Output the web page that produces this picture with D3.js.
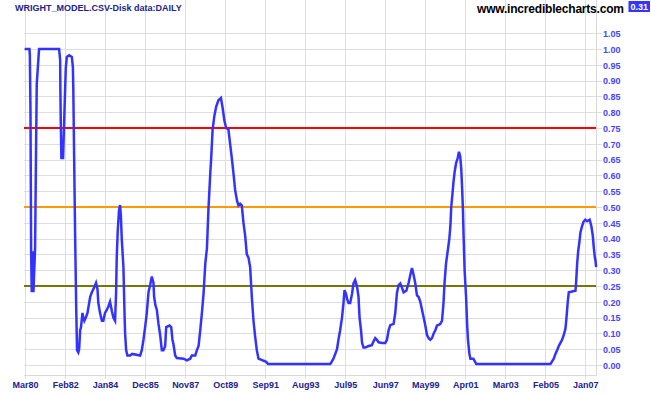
<!DOCTYPE html>
<html>
<head>
<meta charset="utf-8">
<script src="https://cdn.jsdelivr.net/npm/d3@7"></script>
<style>
  body { margin: 0; background: #fff; }
  svg { display: block; font-family: "Liberation Sans", Arial, sans-serif; }
</style>
</head>
<body>
<div id="chart"></div>
<script>
// chart data: decimal years and model readings
var years = [
  1980.17, 1980.40, 1980.42, 1980.45, 1980.48, 1980.51, 1980.55, 1980.59, 1980.67, 1980.72,
  1980.75, 1980.81, 1980.86, 1981.82, 1981.87, 1981.88, 1981.90, 1981.93, 1982.01, 1982.08,
  1982.14, 1982.19, 1982.30, 1982.43, 1982.48, 1982.50, 1982.54, 1982.59, 1982.64, 1982.68,
  1982.74, 1982.78, 1982.83, 1982.87, 1982.94, 1982.98, 1983.03, 1983.10, 1983.18, 1983.26,
  1983.31, 1983.39, 1983.51, 1983.59, 1983.66, 1983.70, 1983.78, 1983.87, 1983.94, 1984.02,
  1984.11, 1984.18, 1984.26, 1984.35, 1984.42, 1984.50, 1984.55, 1984.58, 1984.63, 1984.69,
  1984.74, 1984.78, 1984.82, 1984.90, 1984.95, 1984.98, 1985.03, 1985.09, 1985.22, 1985.32,
  1985.70, 1985.78, 1985.86, 1985.94, 1986.02, 1986.10, 1986.18, 1986.26, 1986.34, 1986.37,
  1986.43, 1986.50, 1986.58, 1986.66, 1986.74, 1986.82, 1986.90, 1986.95, 1987.11, 1987.19,
  1987.25, 1987.30, 1987.38, 1987.46, 1987.78, 1987.94, 1988.10, 1988.18, 1988.34, 1988.42,
  1988.50, 1988.58, 1988.66, 1988.74, 1988.82, 1988.90, 1988.97, 1989.06, 1989.10, 1989.17,
  1989.25, 1989.34, 1989.45, 1989.57, 1989.66, 1989.73, 1989.82, 1989.93, 1990.01, 1990.10,
  1990.17, 1990.25, 1990.34, 1990.41, 1990.49, 1990.57, 1990.65, 1990.73, 1990.81, 1990.89,
  1990.97, 1991.05, 1991.13, 1991.21, 1991.29, 1991.37, 1991.74, 1991.83, 1994.81, 1994.96,
  1995.13, 1995.20, 1995.28, 1995.37, 1995.44, 1995.49, 1995.56, 1995.61, 1995.68, 1995.76,
  1995.85, 1995.92, 1996.00, 1996.09, 1996.16, 1996.21, 1996.28, 1996.33, 1996.40, 1996.48,
  1996.64, 1996.80, 1996.88, 1996.96, 1997.04, 1997.12, 1997.28, 1997.44, 1997.52, 1997.60,
  1997.68, 1997.84, 1997.92, 1998.00, 1998.08, 1998.16, 1998.24, 1998.32, 1998.45, 1998.56,
  1998.64, 1998.72, 1998.80, 1998.88, 1998.96, 1999.04, 1999.12, 1999.20, 1999.28, 1999.36,
  1999.44, 1999.52, 1999.60, 1999.68, 1999.76, 1999.84, 1999.92, 2000.00, 2000.08, 2000.16,
  2000.23, 2000.28, 2000.35, 2000.43, 2000.51, 2000.56, 2000.60, 2000.67, 2000.71, 2000.76,
  2000.83, 2000.91, 2000.97, 2001.03, 2001.08, 2001.12, 2001.16, 2001.19, 2001.24, 2001.31,
  2001.36, 2001.40, 2001.47, 2001.52, 2001.66, 2001.80, 2005.35, 2005.51, 2005.59, 2005.67,
  2005.75, 2005.83, 2005.91, 2005.99, 2006.07, 2006.12, 2006.18, 2006.23, 2006.55, 2006.58,
  2006.63, 2006.68, 2006.74, 2006.79, 2006.87, 2006.94, 2007.02, 2007.11, 2007.23, 2007.31,
  2007.38, 2007.43, 2007.48, 2007.51, 2007.54
];

var values = [
  1.00, 1.00, 0.98, 0.80, 0.36, 0.23, 0.36, 0.23, 0.37, 0.71,
  0.89, 0.95, 1.00, 1.00, 0.965, 0.877, 0.77, 0.655, 0.655, 0.81,
  0.94, 0.975, 0.98, 0.975, 0.943, 0.877, 0.66, 0.40, 0.18, 0.047,
  0.04, 0.05, 0.11, 0.12, 0.165, 0.15, 0.14, 0.15, 0.165, 0.196,
  0.216, 0.23, 0.247, 0.26, 0.24, 0.196, 0.165, 0.14, 0.14, 0.165,
  0.175, 0.185, 0.20, 0.17, 0.15, 0.14, 0.23, 0.34, 0.427, 0.49,
  0.506, 0.47, 0.40, 0.31, 0.17, 0.10, 0.047, 0.03, 0.03, 0.035,
  0.03, 0.047, 0.08, 0.12, 0.165, 0.23, 0.253, 0.28, 0.26, 0.216,
  0.19, 0.175, 0.13, 0.095, 0.047, 0.047, 0.06, 0.12, 0.125, 0.12,
  0.08, 0.065, 0.03, 0.022, 0.02, 0.015, 0.02, 0.03, 0.03, 0.047,
  0.06, 0.11, 0.165, 0.228, 0.32, 0.37, 0.49, 0.607, 0.65, 0.744,
  0.786, 0.817, 0.838, 0.845, 0.81, 0.775, 0.75, 0.745, 0.70, 0.65,
  0.607, 0.554, 0.52, 0.505, 0.51, 0.505, 0.45, 0.41, 0.35, 0.34,
  0.31, 0.216, 0.14, 0.09, 0.047, 0.02, 0.01, 0.003, 0.003, 0.02,
  0.05, 0.08, 0.11, 0.15, 0.196, 0.237, 0.225, 0.21, 0.196, 0.196,
  0.225, 0.258, 0.269, 0.248, 0.216, 0.15, 0.11, 0.07, 0.055, 0.055,
  0.06, 0.063, 0.075, 0.085, 0.08, 0.072, 0.07, 0.07, 0.08, 0.11,
  0.126, 0.13, 0.165, 0.228, 0.253, 0.258, 0.245, 0.23, 0.235, 0.26,
  0.285, 0.307, 0.285, 0.258, 0.22, 0.215, 0.20, 0.175, 0.15, 0.125,
  0.095, 0.085, 0.08, 0.085, 0.10, 0.11, 0.125, 0.127, 0.13, 0.14,
  0.196, 0.26, 0.32, 0.36, 0.40, 0.44, 0.50, 0.55, 0.58, 0.61,
  0.638, 0.655, 0.675, 0.66, 0.62, 0.56, 0.49, 0.41, 0.30, 0.216,
  0.13, 0.08, 0.035, 0.02, 0.02, 0.003, 0.003, 0.02, 0.035, 0.047,
  0.06, 0.07, 0.08, 0.095, 0.115, 0.15, 0.20, 0.23, 0.235, 0.26,
  0.32, 0.36, 0.39, 0.42, 0.44, 0.454, 0.46, 0.455, 0.46, 0.44,
  0.41, 0.37, 0.34, 0.33, 0.31
];

var tickDates = ["1980-03-01", "1982-02-01", "1984-01-01", "1985-12-01", "1987-11-01",
  "1989-10-01", "1991-09-01", "1993-08-01", "1995-07-01", "1997-06-01", "1999-05-01",
  "2001-04-01", "2003-03-01", "2005-02-01", "2007-01-01"];
var tickLabels = ["Mar80", "Feb82", "Jan84", "Dec85", "Nov87", "Oct89", "Sep91", "Aug93",
  "Jul95", "Jun97", "May99", "Apr01", "Mar03", "Feb05", "Jan07"];

var yTicks = d3.range(0, 21.5).map(d => +(d * 0.05).toFixed(2));
var levels = [0.75, 0.50, 0.25];
var levelColors = ["#ff0000", "#ff9900", "#777700"];
var lastValue = "0.31";

var width = 651, height = 395;
var plot = { left: 24, right: 596, top: 0, bottom: 375 };

function decToDate(y) {
  var yr = Math.floor(y);
  var s = Date.UTC(yr, 0, 1), e = Date.UTC(yr + 1, 0, 1);
  return new Date(s + (y - yr) * (e - s));
}

var data = years.map((y, i) => ({ date: decToDate(y), value: values[i] }));

var svg = d3.select("#chart").append("svg")
  .attr("width", width)
  .attr("height", height);

var x = d3.scaleUtc()
  .domain([new Date(Date.UTC(1980, 2, 1)), new Date(Date.UTC(2007, 6, 15))])
  .range([24.5, 596]);

var y = d3.scaleLinear()
  .domain([0, 1])
  .range([365, 49]);

var tickDateObjs = tickDates.map(d => new Date(d + "T00:00:00Z"));

// vertical grid
svg.append("g").selectAll("line")
  .data(tickDateObjs)
  .enter().append("line")
  .attr("x1", d => Math.round(x(d)) + 0.5)
  .attr("x2", d => Math.round(x(d)) + 0.5)
  .attr("y1", plot.top)
  .attr("y2", plot.bottom + 4)
  .attr("stroke", "#dedede");

// horizontal grid (extends to the tick marks on the right)
svg.append("g").selectAll("line")
  .data(yTicks)
  .enter().append("line")
  .attr("x1", plot.left)
  .attr("x2", plot.right + 6)
  .attr("y1", d => Math.round(y(d)) + 0.5)
  .attr("y2", d => Math.round(y(d)) + 0.5)
  .attr("stroke", "#dedede");

// plot frame: right and bottom edges
svg.append("line")
  .attr("x1", plot.right + 0.5).attr("x2", plot.right + 0.5)
  .attr("y1", plot.top).attr("y2", plot.bottom + 0.5)
  .attr("stroke", "#d8d8d8");
svg.append("line")
  .attr("x1", plot.left).attr("x2", plot.right + 0.5)
  .attr("y1", plot.bottom + 0.5).attr("y2", plot.bottom + 0.5)
  .attr("stroke", "#d8d8d8");

// y axis labels on right
var yAxis = d3.axisRight(y)
  .tickValues(yTicks)
  .tickSize(0)
  .tickPadding(7)
  .tickFormat(d3.format(".2f"));
var gy = svg.append("g")
  .attr("transform", `translate(${plot.right},0.5)`)
  .call(yAxis);
gy.select(".domain").remove();
gy.selectAll("text")
  .attr("fill", "#4545ff")
  .style("font-size", "9px")
  .style("font-weight", "bold");

// x axis labels
var xAxis = d3.axisBottom(x)
  .tickValues(tickDateObjs)
  .tickSize(0)
  .tickPadding(7)
  .tickFormat((d, i) => tickLabels[i]);
var gx = svg.append("g")
  .attr("transform", `translate(0.5,${plot.bottom})`)
  .call(xAxis);
gx.select(".domain").remove();
gx.selectAll("text")
  .attr("fill", "#22228e")
  .style("font-size", "9px")
  .style("font-weight", "bold");

// signal levels
svg.append("g").selectAll("line")
  .data(levels)
  .enter().append("line")
  .attr("x1", plot.left)
  .attr("x2", plot.right)
  .attr("y1", d => y(d))
  .attr("y2", d => y(d))
  .attr("stroke", (d, i) => levelColors[i])
  .attr("stroke-width", 2);

// model line
var line = d3.line()
  .x(d => x(d.date))
  .y(d => y(d.value));

svg.append("path")
  .datum(data)
  .attr("d", line)
  .attr("fill", "none")
  .attr("stroke", "#3333ff")
  .attr("stroke-width", 2.5)
  .attr("stroke-linejoin", "miter");

// header texts
svg.append("text")
  .attr("x", 15)
  .attr("y", 10.7)
  .attr("fill", "#22228e")
  .style("font-size", "9px")
  .style("font-weight", "bold")
  .text("WRIGHT_MODEL.CSV-Disk data:DAILY");

svg.append("text")
  .attr("x", 477)
  .attr("y", 12.6)
  .attr("fill", "#000")
  .attr("textLength", 147)
  .style("font-size", "12px")
  .style("font-weight", "bold")
  .text("www.incrediblecharts.com");

svg.append("rect")
  .attr("x", 628.5)
  .attr("y", 1)
  .attr("width", 21.5)
  .attr("height", 11)
  .attr("fill", "#3535ff");

svg.append("text")
  .attr("x", 639.3)
  .attr("y", 10.2)
  .attr("text-anchor", "middle")
  .attr("fill", "#fff")
  .style("font-size", "9px")
  .style("font-weight", "bold")
  .text(lastValue);
</script>
</body>
</html>
